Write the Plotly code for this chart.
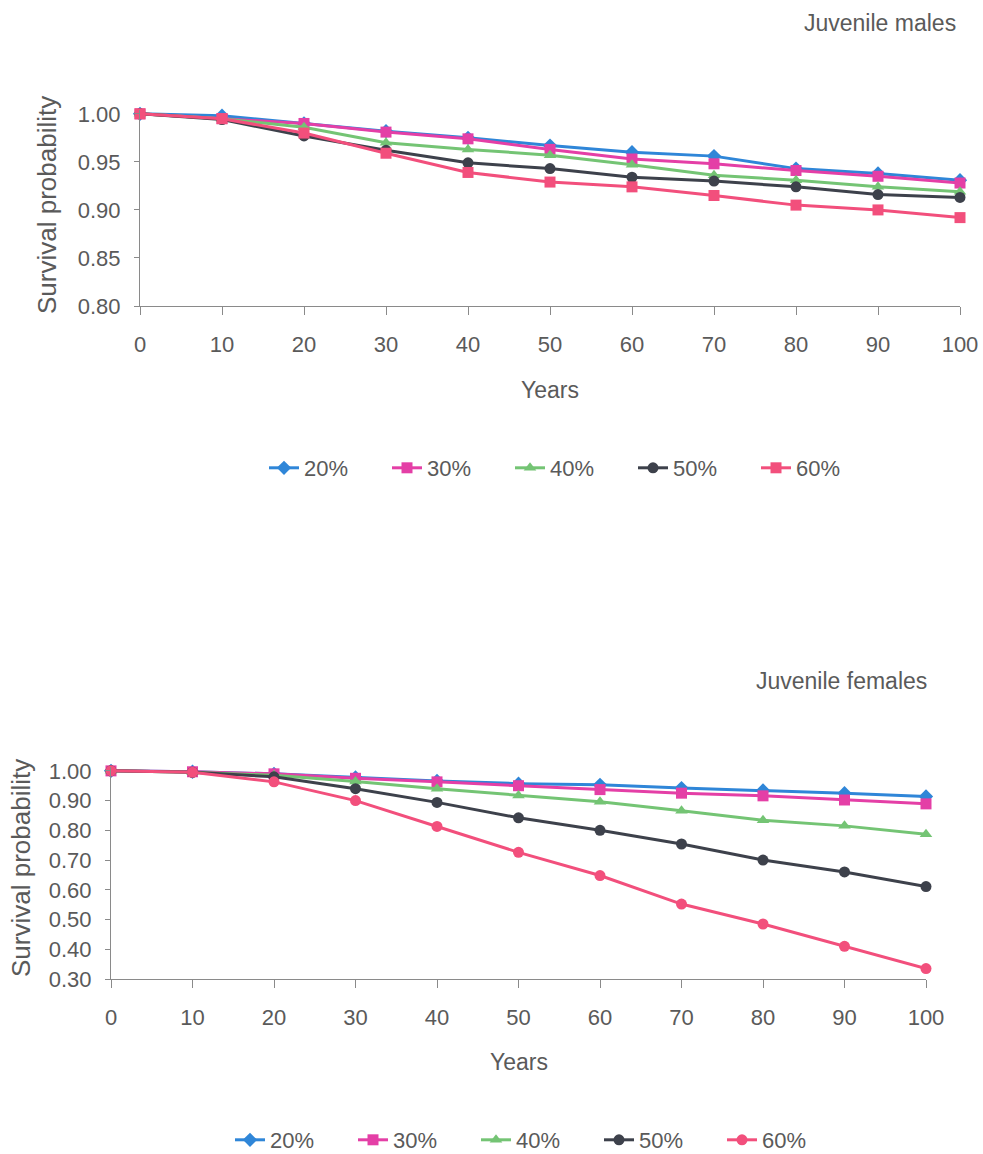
import plotly.graph_objects as go

years = [0, 10, 20, 30, 40, 50, 60, 70, 80, 90, 100]
series_names = ["20%", "30%", "40%", "50%", "60%"]

males_20 = [1.00, 0.998, 0.990, 0.982, 0.975, 0.967, 0.960, 0.956, 0.943, 0.938, 0.931]
males_30 = [1.00, 0.995, 0.990, 0.981, 0.974, 0.963, 0.953, 0.948, 0.941, 0.935, 0.928]
males_40 = [1.00, 0.995, 0.986, 0.970, 0.963, 0.957, 0.947, 0.936, 0.931, 0.924, 0.919]
males_50 = [1.00, 0.994, 0.977, 0.962, 0.949, 0.943, 0.934, 0.930, 0.924, 0.916, 0.913]
males_60 = [1.00, 0.995, 0.980, 0.959, 0.939, 0.929, 0.924, 0.915, 0.905, 0.900, 0.892]

females_20 = [1.00, 0.997, 0.990, 0.978, 0.966, 0.957, 0.953, 0.942, 0.934, 0.925, 0.914]
females_30 = [1.00, 0.997, 0.990, 0.975, 0.963, 0.950, 0.937, 0.925, 0.916, 0.902, 0.889]
females_40 = [1.00, 0.995, 0.985, 0.964, 0.940, 0.917, 0.896, 0.866, 0.834, 0.815, 0.787]
females_50 = [1.00, 0.995, 0.980, 0.940, 0.894, 0.842, 0.800, 0.754, 0.700, 0.660, 0.611]
females_60 = [1.00, 0.995, 0.963, 0.900, 0.813, 0.726, 0.648, 0.552, 0.485, 0.410, 0.335]

males = [males_20, males_30, males_40, males_50, males_60]
females = [females_20, females_30, females_40, females_50, females_60]

colors = ["#2f86d8", "#e43fa6", "#74c474", "#3d414b", "#f24f7c"]
symbols_m = ["diamond", "square", "triangle-up", "circle", "square"]
symbols_f = ["diamond", "square", "triangle-up", "circle", "circle"]

FONT = "Liberation Sans, Arial, sans-serif"
TXT = "#5a5a5a"
W, H = 983, 1154

fig = go.Figure()
for name, vals, col, sym in zip(series_names, males, colors, symbols_m):
    fig.add_trace(go.Scatter(x=years, y=vals, name=name, mode="lines+markers",
                             line=dict(color=col, width=3),
                             marker=dict(symbol=sym, size=11, color=col),
                             cliponaxis=False, xaxis="x", yaxis="y", legend="legend"))
for name, vals, col, sym in zip(series_names, females, colors, symbols_f):
    fig.add_trace(go.Scatter(x=years, y=vals, name=name, mode="lines+markers",
                             line=dict(color=col, width=3),
                             marker=dict(symbol=sym, size=11, color=col),
                             cliponaxis=False, xaxis="x2", yaxis="y2", legend="legend2"))

def px_x(p):
    return p / W

def px_y(p):
    return 1 - p / H

axis_common = dict(showgrid=False, zeroline=False, showline=True, linecolor="#8a8a8a",
                   linewidth=1.2, ticks="outside", tickcolor="#8a8a8a", automargin=False,
                   tickfont=dict(family=FONT, size=22, color=TXT))

fig.update_layout(
    width=W, height=H, margin=dict(l=0, r=0, t=0, b=0, autoexpand=False),
    paper_bgcolor="white", plot_bgcolor="white",
    font=dict(family=FONT, color=TXT),
    xaxis=dict(domain=[px_x(140), px_x(960)], range=[0, 100], tickvals=years,
               anchor="y", ticklen=8, ticklabelstandoff=10, **axis_common),
    yaxis=dict(domain=[px_y(306), px_y(110)], range=[0.80, 1.004],
               tickvals=[0.80, 0.85, 0.90, 0.95, 1.00], tickformat=".2f",
               anchor="x", ticklen=5, ticklabelstandoff=9, **axis_common),
    xaxis2=dict(domain=[px_x(111), px_x(926)], range=[0, 100], tickvals=years,
                anchor="y2", ticklen=8, ticklabelstandoff=10, **axis_common),
    yaxis2=dict(domain=[px_y(979), px_y(767)], range=[0.30, 1.013],
                tickvals=[0.3, 0.4, 0.5, 0.6, 0.7, 0.8, 0.9, 1.0], tickformat=".2f",
                anchor="x2", ticklen=5, ticklabelstandoff=9, **axis_common),
    legend=dict(orientation="h", x=px_x(264), y=px_y(468), xanchor="left", yanchor="middle",
                font=dict(family=FONT, size=22, color=TXT), entrywidth=78,
                bgcolor="rgba(0,0,0,0)", traceorder="normal"),
    legend2=dict(orientation="h", x=px_x(230), y=px_y(1140), xanchor="left", yanchor="middle",
                 font=dict(family=FONT, size=22, color=TXT), entrywidth=78,
                 bgcolor="rgba(0,0,0,0)", traceorder="normal"),
)

annos = [
    dict(text="Juvenile males", x=px_x(958), y=px_y(23), xanchor="right", yanchor="middle", size=23),
    dict(text="Juvenile females", x=px_x(929), y=px_y(681), xanchor="right", yanchor="middle", size=23),
    dict(text="Years", x=px_x(550), y=px_y(390), xanchor="center", yanchor="middle", size=23),
    dict(text="Years", x=px_x(519), y=px_y(1062), xanchor="center", yanchor="middle", size=23),
]
for a in annos:
    fig.add_annotation(text=a["text"], x=a["x"], y=a["y"], xref="paper", yref="paper",
                       xanchor=a["xanchor"], yanchor=a["yanchor"], showarrow=False,
                       font=dict(family=FONT, size=a["size"], color=TXT))
for xx, yy in [(47, 205), (21, 868)]:
    fig.add_annotation(text="Survival probability", x=px_x(xx), y=px_y(yy), xref="paper", yref="paper",
                       textangle=-90, xanchor="center", yanchor="middle", showarrow=False,
                       font=dict(family=FONT, size=26, color=TXT))

# remove the default 8px page margin so the figure fills the window exactly
fig.write_html("out.html", config={"displayModeBar": False},
               post_script="document.body.style.margin='0px';")
